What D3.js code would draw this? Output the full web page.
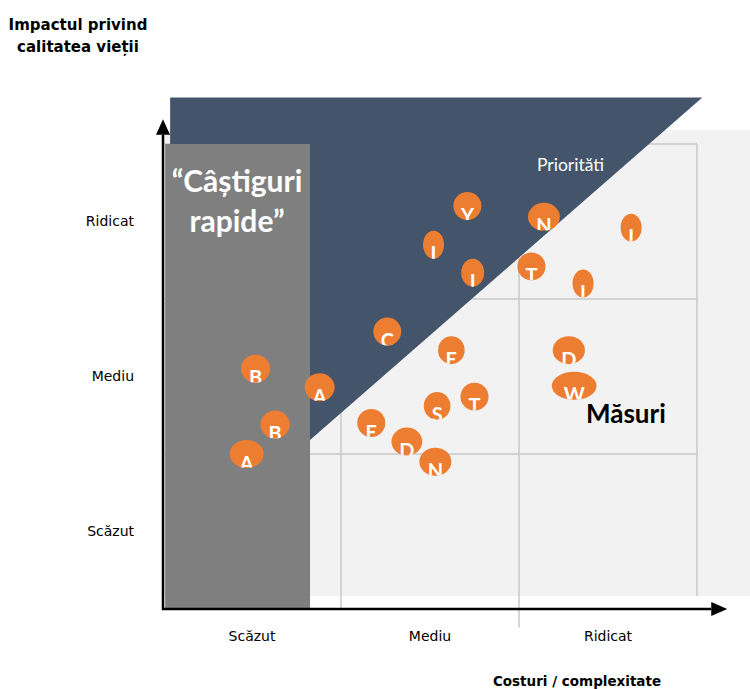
<!DOCTYPE html>
<html>
<head>
<meta charset="utf-8">
<script src="https://cdn.jsdelivr.net/npm/d3@7"></script>
<style>
  body { margin: 0; background: #fff; }
  svg { display: block; font-family: "DejaVu Sans", sans-serif; }
</style>
</head>
<body>
<svg id="chart" width="750" height="689"></svg>
<script>
// niveluri pe ambele axe
const levels = ["Scăzut", "Mediu", "Ridicat"];

// măsurile (bule): eticheta, costuri (x), impact (y), lățime relativă
const labels = ["Y", "N", "I", "I", "I", "T", "I", "C", "E", "D", "B", "A", "W", "T", "S", "E", "B", "D", "N", "A"];
const costs  = [1.71, 2.14, 2.63, 1.52, 1.74, 2.07, 2.36, 1.26, 1.62, 2.28, 0.52, 0.88, 2.31, 1.75, 1.54, 1.17, 0.63, 1.37, 1.53, 0.47];
const impact = [2.60, 2.53, 2.46, 2.35, 2.17, 2.21, 2.10, 1.79, 1.67, 1.67, 1.55, 1.43, 1.44, 1.37, 1.31, 1.20, 1.19, 1.08, 0.95, 1.00];
const widths = [1.00, 1.14, 0.75, 0.75, 0.82, 1.00, 0.75, 1.00, 0.95, 1.15, 1.04, 1.07, 1.60, 1.00, 0.95, 1.00, 1.04, 1.10, 1.14, 1.21];

const svg = d3.select("#chart");

const x = d3.scaleLinear().domain([0, 3]).range([163, 697]);
const y = d3.scaleLinear().domain([0, 3]).range([609, 144]);
const xBand = d3.scaleBand().domain(levels).range([163, 697]);
const yBand = d3.scaleBand().domain(levels).range([609, 144]);
const r = d3.scaleLinear().domain([0, 1]).range([0, 14]);

// fundal gri deschis
svg.append("rect")
    .attr("x", x(0)).attr("y", y(3.09))
    .attr("width", x(3.3) - x(0)).attr("height", y(0.084) - y(3.09))
    .attr("fill", "#f2f2f2");

// grila 3x3
const grid = svg.append("g").attr("stroke", "#c8c8c8").attr("stroke-width", 1.5);
[[1, 0], [2, -0.12], [3, 0.084]].forEach(([v, end]) => {
    grid.append("line")
        .attr("x1", x(v)).attr("x2", x(v))
        .attr("y1", y(3)).attr("y2", y(end));
});
[1, 2, 3].forEach(v => {
    grid.append("line")
        .attr("x1", x(0)).attr("x2", x(3))
        .attr("y1", y(v)).attr("y2", y(v));
});

// zona "Priorități" (triunghiul albastru)
const priority = [[0.04, 3.3], [3.03, 3.3], [0.826, 1.09], [0.04, 1.09]];
svg.append("polygon")
    .attr("points", priority.map(p => [x(p[0]), y(p[1])].join(",")).join(" "))
    .attr("fill", "#44546a");

// zona "Câștiguri rapide"
svg.append("rect")
    .attr("x", x(0.012)).attr("y", y(3))
    .attr("width", x(0.826) - x(0.012)).attr("height", y(0) - y(3))
    .attr("fill", "#7f7f7f");

svg.append("text")
    .attr("x", 237).attr("y", 192)
    .attr("text-anchor", "middle")
    .style("font-family", "Lato, sans-serif").style("font-weight", "bold")
    .style("font-size", "30px").attr("fill", "#fff")
    .text("“Câștiguri");
svg.append("text")
    .attr("x", 237).attr("y", 232)
    .attr("text-anchor", "middle")
    .style("font-family", "Lato, sans-serif").style("font-weight", "bold")
    .style("font-size", "30px").attr("fill", "#fff")
    .text("rapide”");

svg.append("text")
    .attr("x", 537).attr("y", 171)
    .style("font-family", "Lato, sans-serif")
    .style("font-size", "17.5px").attr("fill", "#fff")
    .text("Priorităti");

svg.append("text")
    .attr("x", 586).attr("y", 423)
    .style("font-family", "Lato, sans-serif").style("font-weight", "bold")
    .style("font-size", "26px").attr("fill", "#000")
    .text("Măsuri");

// bulele
const defs = svg.append("defs");
const bubbles = labels.map((l, i) => ({ label: l, cx: x(costs[i]), cy: y(impact[i]), rx: r(widths[i]), ry: r(1) }));

bubbles.forEach((d, i) => {
    defs.append("clipPath").attr("id", `clip${i}`)
        .append("ellipse")
        .attr("cx", d.cx).attr("cy", d.cy).attr("rx", d.rx).attr("ry", d.ry);
});

const bub = svg.append("g").selectAll("g")
    .data(bubbles)
    .enter().append("g");

bub.append("ellipse")
    .attr("cx", d => d.cx).attr("cy", d => d.cy)
    .attr("rx", d => d.rx).attr("ry", d => d.ry)
    .attr("fill", "#ed7d31");

bub.append("text")
    .attr("clip-path", (d, i) => `url(#clip${i})`)
    .attr("x", d => d.cx).attr("y", d => d.cy + 16.5)
    .attr("text-anchor", "middle")
    .style("font-family", "Lato, sans-serif").style("font-weight", "bold")
    .style("font-size", "20px").attr("fill", "#fff")
    .text(d => d.label);

// axe cu săgeți
const axes = svg.append("g");
axes.append("line")
    .attr("x1", x(0)).attr("x2", x(0))
    .attr("y1", y(0) + 1).attr("y2", y(3.06))
    .attr("stroke", "#000").attr("stroke-width", 2.5);
axes.append("path")
    .attr("d", `M${x(0) - 7},${y(3.06)} L${x(0) + 7},${y(3.06)} L${x(0)},${y(3.16)} Z`)
    .attr("fill", "#000");
axes.append("line")
    .attr("x1", x(0) - 1).attr("x2", x(3.08))
    .attr("y1", y(0)).attr("y2", y(0))
    .attr("stroke", "#000").attr("stroke-width", 2.5);
axes.append("path")
    .attr("d", `M${x(3.08)},${y(0) - 7} L${x(3.08)},${y(0) + 7} L${x(3.17)},${y(0)} Z`)
    .attr("fill", "#000");

// etichete axe
const xAxis = svg.append("g")
    .attr("transform", `translate(0,${y(0)})`)
    .call(d3.axisBottom(xBand).tickSize(0).tickPadding(22));
const yAxis = svg.append("g")
    .attr("transform", `translate(${x(0)},0)`)
    .call(d3.axisLeft(yBand).tickSize(0).tickPadding(29));
[xAxis, yAxis].forEach(a => {
    a.select(".domain").remove();
    a.selectAll("text")
        .style("font-family", "DejaVu Sans, sans-serif")
        .style("font-size", "14px").attr("fill", "#000");
});

svg.append("text")
    .attr("x", 78).attr("y", 30)
    .attr("text-anchor", "middle")
    .style("font-weight", "bold").style("font-size", "15px")
    .text("Impactul privind");
svg.append("text")
    .attr("x", 78).attr("y", 52)
    .attr("text-anchor", "middle")
    .style("font-weight", "bold").style("font-size", "15px")
    .text("calitatea vieții");

svg.append("text")
    .attr("x", 577).attr("y", 686)
    .attr("text-anchor", "middle")
    .style("font-weight", "bold").style("font-size", "13.5px")
    .text("Costuri / complexitate");
</script>
</body>
</html>
